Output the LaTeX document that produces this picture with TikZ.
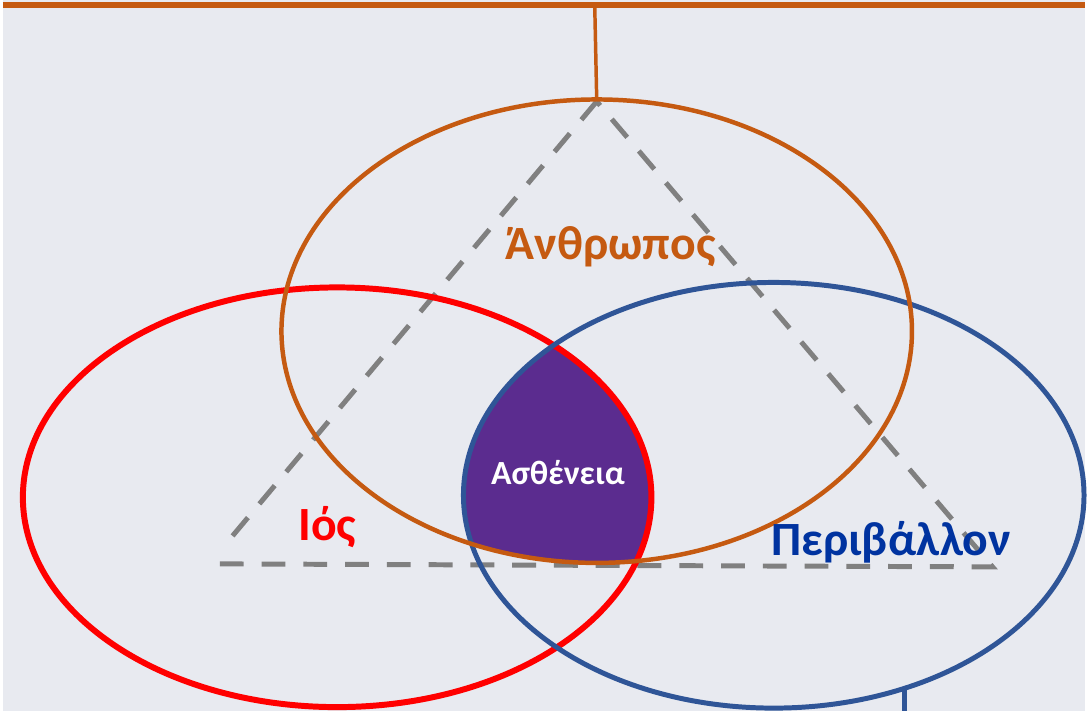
\documentclass[tikz,border=0pt]{standalone}
\usepackage{fontspec}
\setmainfont{Carlito}
\usetikzlibrary{shapes.geometric}
\definecolor{bgc}{HTML}{E8EAF0}
\definecolor{orng}{HTML}{C55A11}
\definecolor{blu}{HTML}{2F5597}
\definecolor{bluetxt}{HTML}{0033A0}
\definecolor{purp}{HTML}{5B2C8F}
\definecolor{dgrey}{HTML}{808080}
\begin{document}
\begin{tikzpicture}
  [x=1pt,y=-1pt,
   ring/.style={ellipse,draw,inner sep=0pt,outer sep=0pt},
   lbl/.style={font=\fontsize{48}{48}\selectfont\bfseries},
   dashline/.style={dgrey,line width=5pt,dash pattern=on 24pt off 18pt}]
  \fill[bgc] (0,0) rectangle (1088,715);
  % common part of the three rings
  \begin{scope}
    \clip (597,333) ellipse (317 and 233);
    \clip (336,500) ellipse (316 and 211);
    \fill[purp] (775,498) ellipse (312 and 214);
  \end{scope}
  % triangle
  \coordinate (apex) at (597,102);
  \coordinate (bl) at (224,547);
  \coordinate (bl2) at (218,567);
  \coordinate (br) at (995,570);
  \draw[dashline] (apex) -- (bl);
  \draw[dashline] (bl2) -- (br) -- (apex);
  % rings
  \node[ring,red,line width=6pt,minimum width=632pt,minimum height=422pt] (virus) at (336,500) {};
  \node[ring,blu,line width=5pt,minimum width=624pt,minimum height=428pt] (env) at (775,498) {};
  \node[ring,orng,line width=4.5pt,minimum width=634pt,minimum height=466pt] (human) at (597,333) {};
  % frame lines
  \coordinate (topl) at (0,5);
  \coordinate (topr) at (1088,5);
  \coordinate (topm) at (595,5);
  \coordinate (botm) at (905,715);
  \draw[orng,line width=6pt] (topl) -- (topr);
  \draw[orng,line width=3.5pt] (topm) -- (human.north);
  \draw[blu,line width=5pt] (env.-56) -- (env.-56 |- botm);
  % labels
  \node[lbl,orng] (t1) at (611,248) {Άνθρωπος};
  \node[lbl,red] (t2) at (326,530) {Ιός};
  \node[lbl,bluetxt] (t3) at (893,545) {Περιβάλλον};
  \node[white,font=\fontsize{34}{34}\selectfont\bfseries] (t4) at (558,475) {Ασθένεια};
\end{tikzpicture}
\end{document}
